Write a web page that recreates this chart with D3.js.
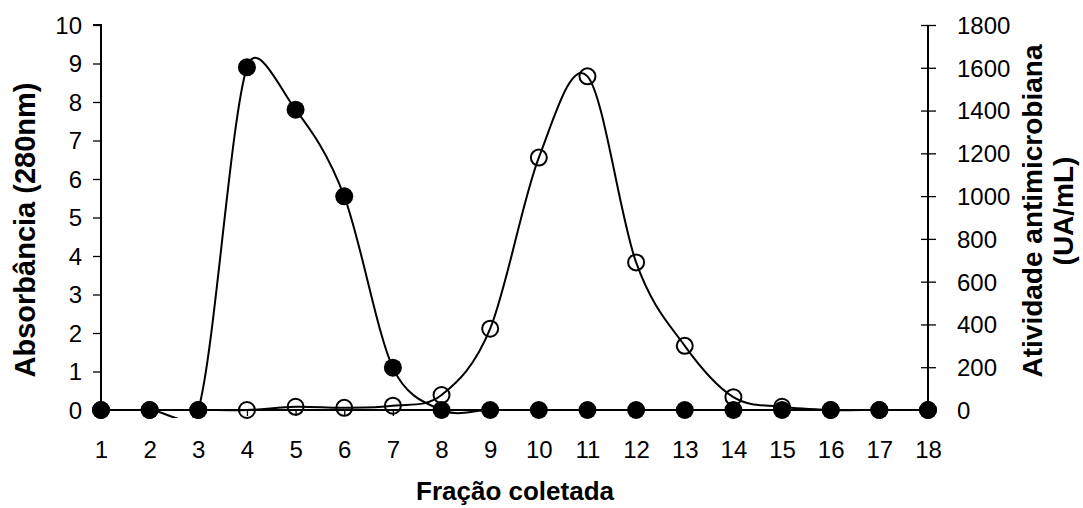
<!DOCTYPE html>
<html>
<head>
<meta charset="utf-8">
<script src="https://cdn.jsdelivr.net/npm/d3@7"></script>
<style>
  html, body { margin: 0; padding: 0; background: #fff; }
  svg text { font-family: "Liberation Sans", Arial, sans-serif; fill: #000; }
</style>
</head>
<body>
<svg id="chart" width="1083" height="508"></svg>
<script>
// Fractions collected from the column
const fractions = [1, 2, 3, 4, 5, 6, 7, 8, 9, 10, 11, 12, 13, 14, 15, 16, 17, 18];
// Absorbance at 280 nm (left axis)
const absorbance = [0, 0, 0, 8.9, 7.8, 5.55, 1.1, 0, 0, 0, 0, 0, 0, 0, 0, 0, 0, 0];
// Antimicrobial activity in UA/mL (right axis)
const activity = [0, 0, 0, 0, 15, 10, 20, 70, 380, 1180, 1560, 690, 300, 60, 15, 0, 0, 0];
const leftTicks = [0, 1, 2, 3, 4, 5, 6, 7, 8, 9, 10];
const rightTicks = [0, 200, 400, 600, 800, 1000, 1200, 1400, 1600, 1800];

// Spreadsheet-style smoothed line: cubic Bezier segments whose control arms are
// 1/6 of the neighbour chord, capped at half of the segment length.
function smoothCurve(context) {
  return {
    areaStart() {}, areaEnd() {},
    lineStart() { this._p = []; },
    point(px, py) { this._p.push([+px, +py]); },
    lineEnd() {
      const p = this._p, n = p.length;
      if (!n) return;
      context.moveTo(p[0][0], p[0][1]);
      const dist = (a, b) => Math.hypot(b[0] - a[0], b[1] - a[1]);
      for (let i = 0; i < n - 1; i++) {
        const p0 = p[Math.max(i - 1, 0)], p1 = p[i], p2 = p[i + 1], p3 = p[Math.min(i + 2, n - 1)];
        const d12 = dist(p1, p2), d02 = dist(p0, p2), d13 = dist(p1, p3);
        let f1 = 1 / 6, f2 = 1 / 6;
        if (d02 / 6 >= d12 / 2 && d02 > 0) f1 = d12 / (2 * d02);
        if (d13 / 6 >= d12 / 2 && d13 > 0) f2 = d12 / (2 * d13);
        context.bezierCurveTo(
          p1[0] + (p2[0] - p0[0]) * f1, p1[1] + (p2[1] - p0[1]) * f1,
          p2[0] - (p3[0] - p1[0]) * f2, p2[1] - (p3[1] - p1[1]) * f2,
          p2[0], p2[1]);
      }
    }
  };
}

const svg = d3.select("#chart");
const plotLeft = 101, plotRight = 928, plotTop = 25, plotBottom = 410;

const x = d3.scaleLinear().domain([1, 18]).range([plotLeft, plotRight]);
const yL = d3.scaleLinear().domain([0, 10]).range([plotBottom, plotTop]);
const yR = d3.scaleLinear().domain([0, 1800]).range([plotBottom, plotTop]);

svg.append("defs").append("clipPath").attr("id", "plotClip")
  .append("rect").attr("x", plotLeft).attr("y", plotTop - 10)
  .attr("width", plotRight - plotLeft).attr("height", plotBottom - plotTop + 18);

const tickFont = "24px";

// Left axis
const gL = svg.append("g").attr("transform", `translate(${plotLeft},0)`)
  .call(d3.axisLeft(yL).tickValues(leftTicks).tickSize(8).tickPadding(11).tickFormat(d3.format("d")));
// Right axis with crossing ticks
const gR = svg.append("g").attr("transform", `translate(${plotRight},0)`)
  .call(d3.axisRight(yR).tickValues(rightTicks).tickSize(8).tickPadding(21).tickFormat(d3.format("d")));
gR.selectAll(".tick line").attr("x1", -7).attr("x2", 8);
// Bottom axis
const gB = svg.append("g").attr("transform", `translate(0,${plotBottom})`)
  .call(d3.axisBottom(x).tickValues(fractions).tickSize(6).tickPadding(25).tickFormat(d3.format("d")));

[gL, gR, gB].forEach(g => {
  g.attr("font-size", null).attr("font-family", null);
  g.selectAll("path.domain").attr("stroke", "#000").attr("stroke-width", 2);
  g.selectAll(".tick line").attr("stroke", "#000").attr("stroke-width", 1.3);
  g.selectAll(".tick text").style("font-size", tickFont)
    .style("font-family", '"Liberation Sans", Arial, sans-serif').attr("fill", "#000");
});
gL.selectAll(".tick text").attr("dy", "0.35em");
gR.selectAll(".tick text").attr("dy", "0.35em");
gL.select("path.domain").attr("d", `M-8,${plotTop}H0V${plotBottom}`);
gR.select("path.domain").attr("d", `M0,${plotTop}V${plotBottom}`);
gB.select("path.domain").attr("d", `M${plotLeft},0H${plotRight}`);

// Series lines (smoothed)
const plot = svg.append("g").attr("clip-path", "url(#plotClip)");
const lineL = d3.line().x((d, i) => x(fractions[i])).y(d => yL(d)).curve(smoothCurve);
const lineR = d3.line().x((d, i) => x(fractions[i])).y(d => yR(d)).curve(smoothCurve);

plot.append("path").datum(activity).attr("d", lineR)
  .attr("fill", "none").attr("stroke", "#000").attr("stroke-width", 2);
plot.append("path").datum(absorbance).attr("d", lineL)
  .attr("fill", "none").attr("stroke", "#000").attr("stroke-width", 2);

// Markers: open circles for activity, filled circles for absorbance
svg.append("g").selectAll("circle").data(activity).join("circle")
  .attr("cx", (d, i) => x(fractions[i])).attr("cy", d => yR(d)).attr("r", 8)
  .attr("fill", "none").attr("stroke", "#000").attr("stroke-width", 2);
svg.append("g").selectAll("circle").data(absorbance).join("circle")
  .attr("cx", (d, i) => x(fractions[i])).attr("cy", d => yL(d)).attr("r", 9)
  .attr("fill", "#000");

// Axis titles
svg.append("text").attr("x", 515).attr("y", 500)
  .attr("text-anchor", "middle").style("font-size", "26px").style("font-weight", "bold")
  .text("Fração coletada");
svg.append("text").attr("transform", `translate(35,230) rotate(-90)`)
  .attr("text-anchor", "middle").style("font-size", "29px").style("font-weight", "bold")
  .text("Absorbância (280nm)");
const rt = svg.append("text").attr("transform", `translate(1042,211) rotate(-90)`)
  .attr("text-anchor", "middle").style("font-size", "28px").style("font-weight", "bold");
rt.append("tspan").attr("x", 0).attr("dy", 0).text("Atividade antimicrobiana");
rt.append("tspan").attr("x", 0).attr("dy", 31).text("(UA/mL)");
</script>
</body>
</html>
